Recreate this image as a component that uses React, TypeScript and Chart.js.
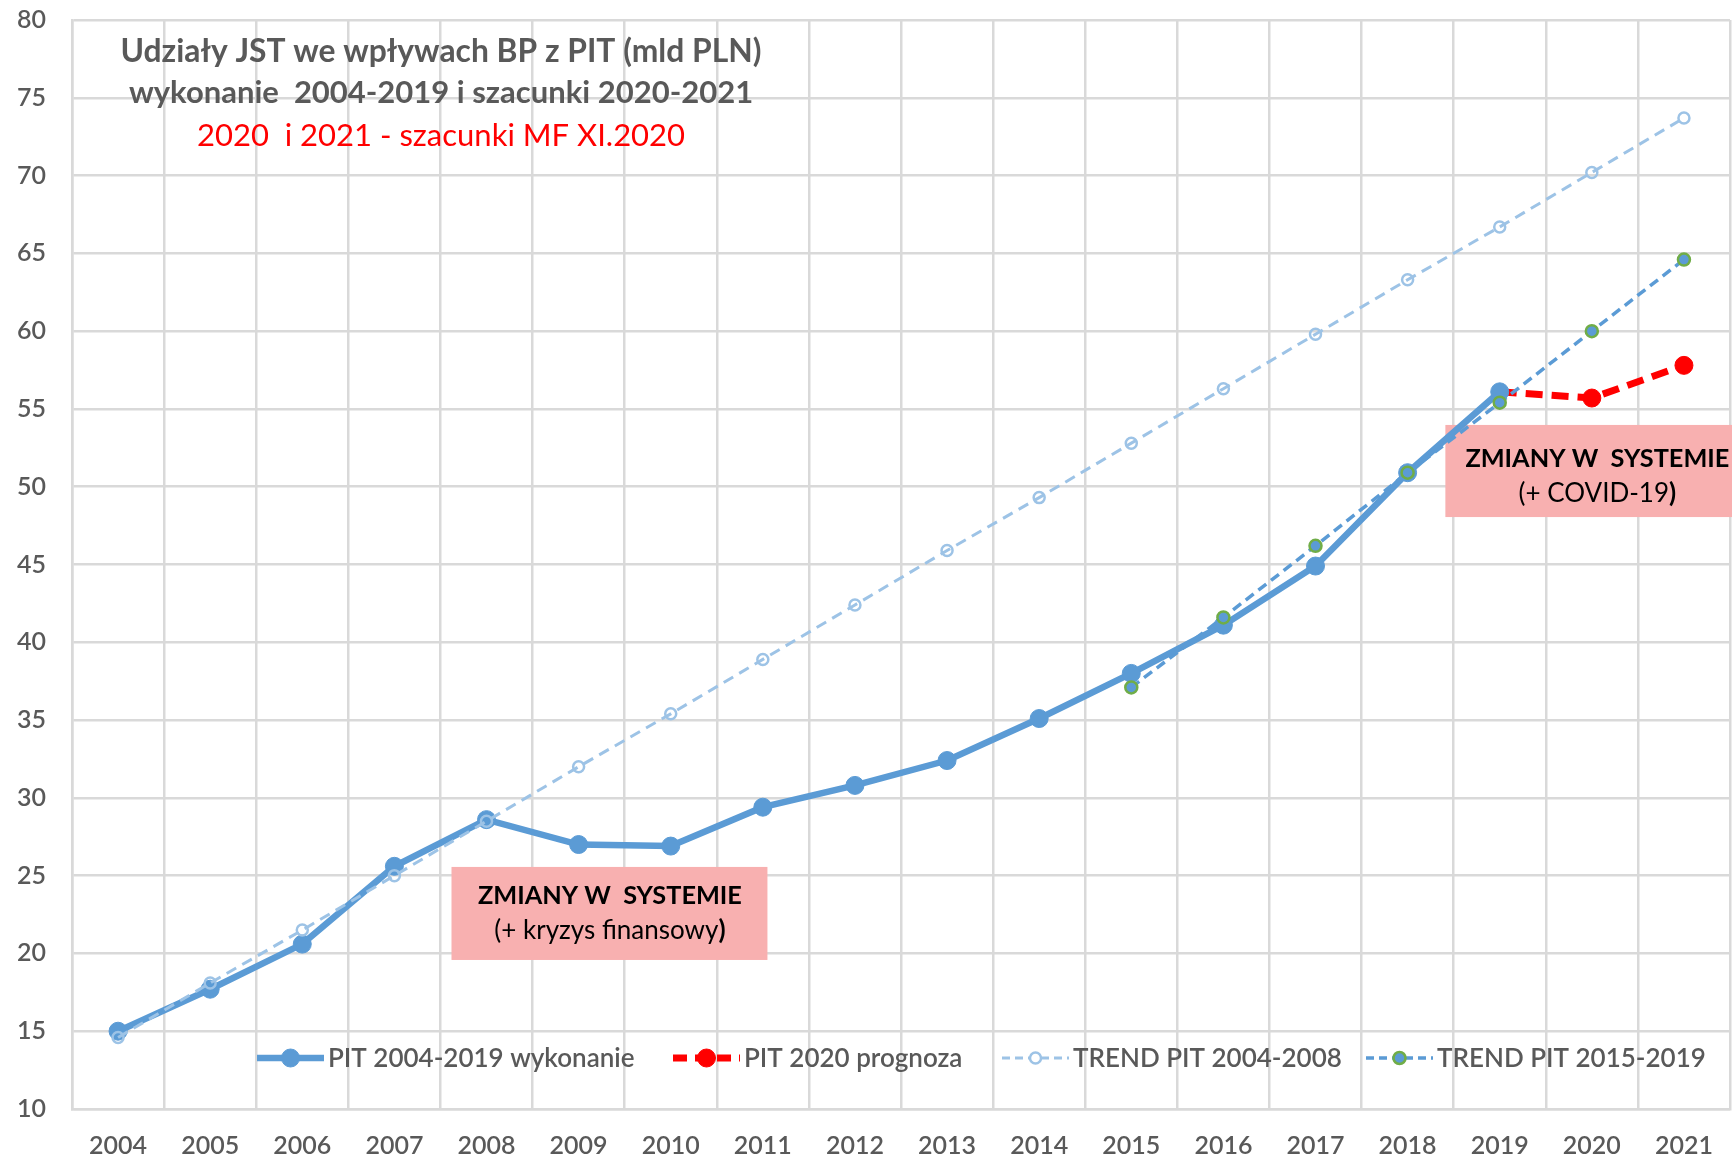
import React, { useEffect, useRef } from 'react';
import { Chart, registerables } from 'chart.js';

Chart.register(...registerables);

// ---------- DATA ----------
const YEARS = ['2004', '2005', '2006', '2007', '2008', '2009', '2010', '2011', '2012', '2013', '2014', '2015', '2016', '2017', '2018', '2019', '2020', '2021'];

const PIT_ACTUAL = [15.0, 17.7, 20.6, 25.6, 28.6, 27.0, 26.9, 29.4, 30.8, 32.4, 35.1, 38.0, 41.1, 44.9, 50.9, 56.1, null, null];
const PIT_FORECAST = [null, null, null, null, null, null, null, null, null, null, null, null, null, null, null, 56.1, 55.7, 57.8];
const TREND_2004_2008 = [14.6, 18.1, 21.5, 25.0, 28.5, 32.0, 35.4, 38.9, 42.4, 45.9, 49.3, 52.8, 56.3, 59.8, 63.3, 66.7, 70.2, 73.7];
const TREND_2015_2019 = [null, null, null, null, null, null, null, null, null, null, null, 37.1, 41.6, 46.2, 50.9, 55.4, 60.0, 64.6];

const SERIES_LABELS = ['PIT 2004-2019 wykonanie', 'PIT 2020 prognoza', 'TREND PIT 2004-2008', 'TREND PIT 2015-2019'];

const Y_MIN = 10;
const Y_MAX = 80;
const Y_STEP = 5;

const TITLE_LINES = ['Udziały JST we wpływach BP z PIT (mld PLN)', 'wykonanie  2004-2019 i szacunki 2020-2021'];
const SUBTITLE = '2020  i 2021 - szacunki MF XI.2020';

const NOTE_1 = ['ZMIANY W  SYSTEMIE', '(+ kryzys finansowy'];
const NOTE_2 = ['ZMIANY W  SYSTEMIE', '(+ COVID-19'];

// ---------- STYLE ----------
const BLUE = '#5B9BD5';
const LIGHT_BLUE = '#9DC3E6';
const RED = '#FF0000';
const GREEN = '#70AD47';
const GRID = '#D9D9D9';
const TEXT = '#595959';
const NOTE_BG = '#F8B0B0';
const FONT = 'Lato, "Open Sans", sans-serif';

const overlayPlugin = {
  id: 'overlay',
  beforeDatasetsDraw(chart: any) {
    const { ctx, scales } = chart;
    const x = scales.x;
    const y = scales.y;
    const boxes = [
      { x0: 3.62, x1: 7.05, y0: 25.56, y1: 19.58 },
      { x0: 14.41, x1: 17.6, y0: 53.97, y1: 48.05 },
    ];
    ctx.save();
    for (const b of boxes) {
      const left = x.getPixelForValue(b.x0);
      const right = Math.min(x.getPixelForValue(b.x1), 1732);
      const top = y.getPixelForValue(b.y0);
      const bottom = y.getPixelForValue(b.y1);
      ctx.fillStyle = NOTE_BG;
      ctx.fillRect(left, top, right - left, bottom - top);
    }
    ctx.restore();
  },
  afterDatasetsDraw(chart: any) {
    const { ctx, scales } = chart;
    const x = scales.x;
    const y = scales.y;
    ctx.save();
    ctx.textBaseline = 'middle';
    // note texts
    const notes = [
      { cx: 5.34, ty: 23.7, lines: NOTE_1 },
      { cx: 16.06, ty: 51.8, lines: NOTE_2 },
    ];
    for (const n of notes) {
      const cx = x.getPixelForValue(n.cx);
      const ty = y.getPixelForValue(n.ty);
      ctx.fillStyle = '#000000';
      ctx.textAlign = 'center';
      ctx.font = `bold 25.3px ${FONT}`;
      ctx.fillText(n.lines[0], cx, ty);
      // second line: regular text with a bold closing parenthesis
      ctx.font = `26px ${FONT}`;
      const w1 = ctx.measureText(n.lines[1]).width;
      ctx.font = `bold 26px ${FONT}`;
      const w2 = ctx.measureText(')').width;
      const start = cx - (w1 + w2) / 2;
      ctx.textAlign = 'left';
      ctx.font = `26px ${FONT}`;
      ctx.fillText(n.lines[1], start, ty + 35);
      ctx.font = `bold 26px ${FONT}`;
      ctx.fillText(')', start + w1, ty + 35);
    }

    // titles
    ctx.textAlign = 'center';
    const tcx = 441;
    ctx.fillStyle = TEXT;
    ctx.font = `bold 31.8px ${FONT}`;
    ctx.fillText(TITLE_LINES[0], tcx, 52);
    ctx.font = `bold 31px ${FONT}`;
    ctx.fillText(TITLE_LINES[1], tcx, 93);
    ctx.fillStyle = RED;
    ctx.font = `31px ${FONT}`;
    ctx.fillText(SUBTITLE, tcx, 136);

    // legend (inside plot, bottom)
    const ly = 1058;
    const starts = [257, 673, 1002, 1366];
    const sample = 67;
    ctx.textAlign = 'left';
    ctx.font = `600 26px ${FONT}`;
    const ds = chart.data.datasets;
    for (let i = 0; i < ds.length; i++) {
      const d = ds[i];
      const lx = starts[i];
      ctx.save();
      ctx.strokeStyle = d.borderColor;
      ctx.lineWidth = d.borderWidth;
      ctx.setLineDash(d.legendDash || []);
      ctx.beginPath();
      ctx.moveTo(lx, ly);
      ctx.lineTo(lx + sample, ly);
      ctx.stroke();
      ctx.setLineDash([]);
      const r = d.legendRadius;
      ctx.beginPath();
      ctx.arc(lx + sample / 2, ly, r, 0, Math.PI * 2);
      ctx.fillStyle = d.legendFill || '#ffffff';
      ctx.fill();
      ctx.strokeStyle = d.pointBorderColor;
      ctx.lineWidth = d.pointBorderWidth;
      ctx.stroke();
      ctx.restore();
      ctx.fillStyle = TEXT;
      ctx.fillText(d.label, lx + sample + 4, ly + 1);
    }
    ctx.restore();
  },
};

export default function App() {
  const canvasRef = useRef<HTMLCanvasElement | null>(null);

  useEffect(() => {
    document.body.style.margin = '0';
    const canvas = canvasRef.current;
    if (!canvas) return;

    const forecastRadius = PIT_FORECAST.map((v, i) => (i === 15 ? 0 : 9));

    const chart = new Chart(canvas, {
      type: 'line',
      data: {
        labels: YEARS,
        datasets: [
          {
            label: SERIES_LABELS[0],
            data: PIT_ACTUAL,
            borderColor: BLUE,
            backgroundColor: BLUE,
            borderWidth: 6.5,
            pointRadius: 9,
            pointBackgroundColor: BLUE,
            pointBorderColor: BLUE,
            pointBorderWidth: 1,
            order: 3,
            legendRadius: 9,
            legendFill: BLUE,
            legendDash: [],
          } as any,
          {
            label: SERIES_LABELS[1],
            data: PIT_FORECAST,
            borderColor: RED,
            backgroundColor: RED,
            borderWidth: 7,
            borderDash: [17, 9],
            pointRadius: forecastRadius,
            pointBackgroundColor: RED,
            pointBorderColor: RED,
            pointBorderWidth: 1,
            order: 4,
            legendRadius: 9,
            legendFill: RED,
            legendDash: [14, 8],
          } as any,
          {
            label: SERIES_LABELS[2],
            data: TREND_2004_2008,
            borderColor: LIGHT_BLUE,
            backgroundColor: 'rgba(0,0,0,0)',
            borderWidth: 3,
            borderDash: [11, 7],
            pointRadius: 5.5,
            pointBackgroundColor: 'rgba(0,0,0,0)',
            pointBorderColor: LIGHT_BLUE,
            pointBorderWidth: 2.5,
            order: 2,
            legendRadius: 5.5,
            legendFill: null,
            legendDash: [8, 5],
          } as any,
          {
            label: SERIES_LABELS[3],
            data: TREND_2015_2019,
            borderColor: BLUE,
            backgroundColor: BLUE,
            borderWidth: 3.5,
            borderDash: [10, 6],
            pointRadius: 6,
            pointBackgroundColor: BLUE,
            pointBorderColor: GREEN,
            pointBorderWidth: 2.5,
            order: 1,
            legendRadius: 6,
            legendFill: BLUE,
            legendDash: [8, 5],
          } as any,
        ],
      },
      options: {
        responsive: true,
        maintainAspectRatio: false,
        animation: false,
        spanGaps: false,
        layout: { padding: { top: 20, right: 0, left: 0, bottom: 0 } },
        plugins: {
          legend: { display: false },
          tooltip: { enabled: false },
          title: { display: false },
        },
        scales: {
          x: {
            offset: true,
            grid: { offset: true, color: GRID, lineWidth: 2.5, drawTicks: false },
            border: { color: GRID, width: 2.5 },
            ticks: { color: TEXT, font: { family: FONT, size: 25, weight: '600' }, padding: 22, maxRotation: 0, autoSkip: false },
            afterFit: (s: any) => { s.height = 51; s.paddingLeft = 0; s.paddingRight = 0; },
          },
          y: {
            min: Y_MIN,
            max: Y_MAX,
            ticks: { stepSize: Y_STEP, color: TEXT, font: { family: FONT, size: 25, weight: '600' }, padding: 26 },
            grid: { color: GRID, lineWidth: 2.5, drawTicks: false },
            border: { color: GRID, width: 2.5 },
            afterFit: (s: any) => { s.width = 72; s.paddingTop = 0; s.paddingBottom = 0; },
          },
        },
      },
      plugins: [overlayPlugin],
    } as any);

    return () => chart.destroy();
  }, []);

  return (
    <div style={{ width: 1732, height: 1160, position: 'relative', overflow: 'hidden' }}>
      <div style={{ width: 1740, height: 1160, position: 'absolute', left: 0, top: 0 }}>
        <canvas ref={canvasRef} />
      </div>
    </div>
  );
}
